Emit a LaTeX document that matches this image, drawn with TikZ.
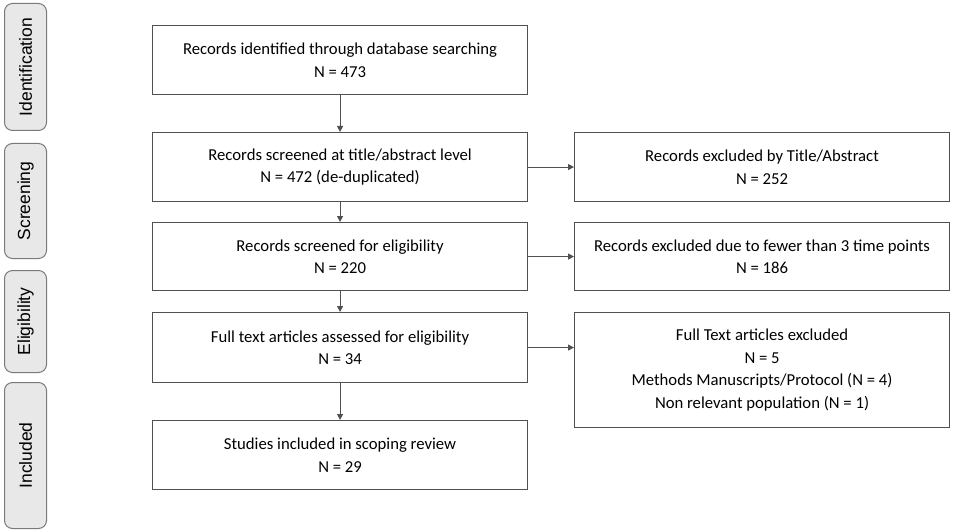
\documentclass[tikz,border=0pt]{standalone}
\usepackage{fontspec}
\setmainfont{Carlito}
\newfontfamily\sidefont{Liberation Sans}
\usetikzlibrary{arrows.meta}
\definecolor{boxline}{HTML}{505050}
\definecolor{sidefill}{HTML}{E8E8E8}
\definecolor{sideline}{HTML}{7A7A7A}
\begin{document}
\begin{tikzpicture}[x=1pt,y=-1pt,
  mainbox/.style={draw=boxline,line width=1.1pt,minimum width=375pt,align=center,
    font=\fontsize{16.7}{22.5}\selectfont,inner sep=0pt,anchor=north west},
  sidebox/.style={draw=sideline,fill=sidefill,rounded corners=8pt,line width=1pt,
    minimum width=42pt,inner sep=0pt,anchor=north west},
  sidetext/.style={rotate=90,font=\sidefont\fontsize{17.5}{20}\selectfont},
  conn/.style={draw=boxline,line width=1.1pt,-{Triangle[length=6pt,width=6pt]}}]
\useasboundingbox (0,0) rectangle (953,532);
% side labels
\node[sidebox,minimum height=127pt] (sid) at (4,3) {};
\node[sidetext] at (sid.center) {Identification};
\node[sidebox,minimum height=115pt] (ssc) at (4,143) {};
\node[sidetext] at (ssc.center) {Screening};
\node[sidebox,minimum height=102pt] (sel) at (4,270) {};
\node[sidetext] at (sel.center) {Eligibility};
\node[sidebox,minimum height=146pt] (sin) at (4,382) {};
\node[sidetext] at (sin.center) {Included};
% main boxes
\node[mainbox,minimum height=69pt] (b1) at (152,25) {Records identified through database searching\\N = 473};
\node[mainbox,minimum height=69pt] (b2) at (152,132) {Records screened at title/abstract level\\N = 472 (de-duplicated)};
\node[mainbox,minimum height=68pt] (b3) at (152,222) {Records screened for eligibility\\N = 220};
\node[mainbox,minimum height=70pt] (b4) at (152,312) {Full text articles assessed for eligibility\\N = 34};
\node[mainbox,minimum height=69pt] (b5) at (152,420) {Studies included in scoping review\\N = 29};
% right boxes
\node[mainbox,minimum height=69pt] (r1) at (574,132) {Records excluded by Title/Abstract\\N = 252};
\node[mainbox,minimum height=68pt] (r2) at (574,222) {Records excluded due to fewer than 3 time points\\N = 186};
\node[mainbox,minimum height=115pt] (r3) at (574,312) {Full Text articles excluded\\N = 5\\Methods Manuscripts/Protocol (N = 4)\\Non relevant population (N = 1)};
% connectors
\draw[conn] (b1) -- (b2);
\draw[conn] (b2) -- (b3);
\draw[conn] (b3) -- (b4);
\draw[conn] (b4) -- (b5);
\draw[conn] (b2.east) -- (r1.west);
\draw[conn] (b3.east) -- (r2.west);
\draw[conn] (b4.east) -- (b4.east -| r3.west);
\end{tikzpicture}
\end{document}
